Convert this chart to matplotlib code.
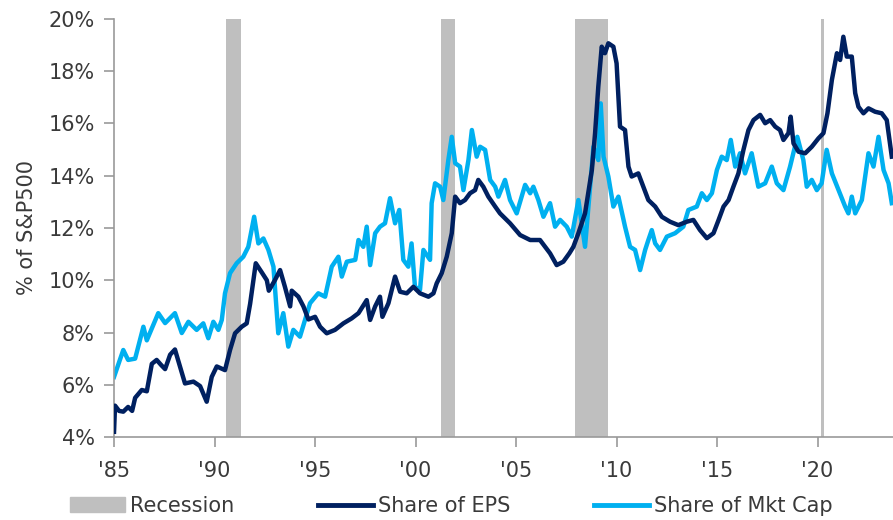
import matplotlib
matplotlib.use("Agg")
import matplotlib.pyplot as plt
import matplotlib.patches as mpatches
from matplotlib.lines import Line2D
from matplotlib.ticker import FuncFormatter

plt.rcParams["font.family"] = ["DejaVu Sans"]

# share of S&P 500 EPS (%)
eps_years = [1985.0, 1985.05, 1985.25, 1985.46, 1985.7, 1985.9, 1986.05, 1986.38, 1986.63, 1986.88,
             1987.12, 1987.35, 1987.54, 1987.79, 1988.03, 1988.28, 1988.53, 1988.95, 1989.28, 1989.61,
             1989.86, 1990.11, 1990.52, 1990.77, 1991.02, 1991.35, 1991.6, 1991.77, 1992.05, 1992.35,
             1992.6, 1992.7, 1993.0, 1993.26, 1993.5, 1993.76, 1993.84, 1994.17, 1994.42, 1994.67,
             1995.0, 1995.25, 1995.58, 1995.99, 1996.41, 1996.82, 1997.16, 1997.57, 1997.74, 1997.99,
             1998.23, 1998.35, 1998.65, 1998.98, 1999.23, 1999.56, 1999.89, 2000.22, 2000.64, 2000.89,
             2001.05, 2001.3, 2001.55, 2001.8, 2001.97, 2002.21, 2002.46, 2002.71, 2002.96, 2003.12,
             2003.37, 2003.62, 2003.96, 2004.2, 2004.7, 2005.2, 2005.7, 2006.19, 2006.69, 2007.02,
             2007.35, 2007.65, 2007.85, 2008.1, 2008.43, 2008.77, 2008.93, 2009.09, 2009.26, 2009.42,
             2009.59, 2009.84, 2010.0, 2010.17, 2010.42, 2010.59, 2010.75, 2011.08, 2011.33, 2011.58,
             2011.92, 2012.25, 2012.66, 2013.07, 2013.49, 2013.82, 2014.15, 2014.49, 2014.82, 2015.07,
             2015.32, 2015.57, 2015.81, 2016.06, 2016.31, 2016.56, 2016.81, 2017.14, 2017.39, 2017.64,
             2017.89, 2018.13, 2018.3, 2018.55, 2018.66, 2018.8, 2019.05, 2019.38, 2019.71, 2020.04,
             2020.29, 2020.49, 2020.71, 2020.96, 2021.12, 2021.28, 2021.45, 2021.7, 2021.87, 2022.03,
             2022.28, 2022.53, 2022.86, 2023.19, 2023.44, 2023.69]
eps_share = [4.2, 5.2, 5.0, 4.97, 5.15, 5.0, 5.5, 5.8, 5.75, 6.8,
             6.95, 6.75, 6.6, 7.15, 7.35, 6.7, 6.05, 6.12, 5.95, 5.35,
             6.3, 6.7, 6.56, 7.33, 7.97, 8.22, 8.35, 9.1, 10.65, 10.3,
             10.0, 9.6, 10.0, 10.39, 9.75, 9.0, 9.6, 9.37, 9.0, 8.5,
             8.6, 8.22, 7.97, 8.1, 8.35, 8.54, 8.74, 9.24, 8.48, 9.0,
             9.37, 8.6, 9.12, 10.14, 9.56, 9.5, 9.75, 9.5, 9.37, 9.5,
             9.88, 10.27, 10.9, 11.8, 13.2, 12.95, 13.07, 13.33, 13.45, 13.84,
             13.58, 13.2, 12.82, 12.56, 12.18, 11.73, 11.54, 11.54, 11.03, 10.58,
             10.71, 11.03, 11.28, 11.8, 12.56, 14.22, 15.63, 17.41, 18.94, 18.69,
             19.07, 18.94, 18.3, 15.88, 15.75, 14.35, 13.97, 14.09, 13.58, 13.07,
             12.82, 12.43, 12.24, 12.11, 12.24, 12.31, 11.92, 11.61, 11.8, 12.3,
             12.82, 13.07, 13.58, 14.09, 14.99, 15.75, 16.13, 16.33, 16.01, 16.13,
             15.88, 15.75, 15.37, 15.63, 16.26, 15.24, 14.92, 14.86, 15.11, 15.43,
             15.63, 16.39, 17.67, 18.69, 18.43, 19.32, 18.56, 18.56, 17.16, 16.64,
             16.39, 16.58, 16.45, 16.39, 16.13, 14.73]

# share of S&P 500 market cap (%)
cap_years = [1985.0, 1985.46, 1985.7, 1986.05, 1986.46, 1986.63, 1987.2, 1987.54, 1988.03, 1988.37,
             1988.7, 1989.11, 1989.44, 1989.69, 1989.94, 1990.19, 1990.36, 1990.52, 1990.77, 1991.1,
             1991.43, 1991.68, 1991.97, 1992.18, 1992.43, 1992.68, 1992.93, 1993.17, 1993.42, 1993.67,
             1993.92, 1994.25, 1994.5, 1994.75, 1995.16, 1995.5, 1995.83, 1996.16, 1996.33, 1996.58,
             1997.0, 1997.16, 1997.4, 1997.57, 1997.74, 1997.99, 1998.23, 1998.48, 1998.73, 1998.98,
             1999.19, 1999.39, 1999.64, 1999.8, 1999.97, 2000.22, 2000.39, 2000.72, 2000.8, 2000.97,
             2001.22, 2001.38, 2001.63, 2001.8, 2001.97, 2002.21, 2002.38, 2002.63, 2002.8, 2003.04,
             2003.21, 2003.46, 2003.71, 2003.96, 2004.12, 2004.45, 2004.7, 2005.03, 2005.45, 2005.7,
             2005.86, 2006.11, 2006.36, 2006.69, 2006.94, 2007.19, 2007.52, 2007.77, 2008.1, 2008.43,
             2008.68, 2008.85, 2009.09, 2009.21, 2009.35, 2009.59, 2009.84, 2010.09, 2010.42, 2010.67,
             2010.92, 2011.17, 2011.42, 2011.58, 2011.75, 2011.92, 2012.16, 2012.5, 2012.91, 2013.32,
             2013.57, 2013.99, 2014.24, 2014.49, 2014.74, 2014.99, 2015.23, 2015.48, 2015.68, 2015.9,
             2016.14, 2016.39, 2016.72, 2017.05, 2017.39, 2017.72, 2017.97, 2018.3, 2018.63, 2018.99,
             2019.29, 2019.46, 2019.71, 2019.96, 2020.2, 2020.45, 2020.71, 2021.04, 2021.37, 2021.53,
             2021.7, 2021.87, 2022.2, 2022.53, 2022.78, 2023.03, 2023.28, 2023.53, 2023.69]
cap_share = [6.3, 7.33, 6.95, 7.0, 8.22, 7.7, 8.74, 8.36, 8.74, 7.98,
             8.41, 8.1, 8.35, 7.78, 8.41, 8.1, 8.48, 9.5, 10.27, 10.65,
             10.9, 11.28, 12.43, 11.41, 11.6, 11.16, 10.52, 7.97, 8.74, 7.46,
             8.1, 7.84, 8.48, 9.12, 9.5, 9.37, 10.52, 10.9, 10.14, 10.71,
             10.78, 11.54, 11.28, 12.05, 10.58, 11.8, 12.05, 12.18, 13.14, 12.18,
             12.69, 10.78, 10.52, 11.41, 9.75, 9.63, 11.16, 10.78, 12.95, 13.71,
             13.58, 13.07, 14.6, 15.49, 14.48, 14.35, 13.45, 14.6, 15.75, 14.73,
             15.11, 14.99, 13.84, 13.58, 13.2, 13.84, 13.07, 12.56, 13.65, 13.33,
             13.58, 13.07, 12.43, 12.95, 12.05, 12.31, 12.05, 11.67, 13.07, 11.28,
             13.58, 15.11, 14.6, 16.77, 14.73, 13.97, 12.82, 13.2, 12.05, 11.28,
             11.16, 10.39, 11.16, 11.54, 11.92, 11.41, 11.16, 11.67, 11.8, 12.05,
             12.69, 12.82, 13.33, 13.07, 13.33, 14.22, 14.73, 14.6, 15.37, 14.35,
             14.86, 14.09, 14.86, 13.58, 13.71, 14.35, 13.71, 13.45, 14.35, 15.49,
             14.6, 13.58, 13.84, 13.45, 13.71, 14.99, 14.09, 13.45, 12.82, 12.56,
             13.2, 12.56, 13.07, 14.86, 14.35, 15.49, 14.22, 13.71, 12.95]

# NBER recessions (start, end)
recessions = [(1990.58, 1991.3), (2001.25, 2001.95), (2007.95, 2009.55), (2020.15, 2020.3)]

x_ticks = [1985, 1990, 1995, 2000, 2005, 2010, 2015, 2020]
x_labels = ["'85", "'90", "'95", "'00", "'05", "'10", "'15", "'20"]
y_ticks = [4, 6, 8, 10, 12, 14, 16, 18, 20]

DARK = "#002060"
LIGHT = "#00B0F0"
GREY = "#BFBFBF"
TXT = "#3a3a3a"

fig = plt.figure(figsize=(8.93, 5.20), dpi=100)
ax = fig.add_axes([0.1277, 0.1596, 0.8723, 0.8039])

for start, end in recessions:
    ax.axvspan(start, end, color=GREY, lw=0, zorder=1)

ax.plot(eps_years, eps_share, color=DARK, lw=3.2, zorder=3, solid_joinstyle="round")
ax.plot(cap_years, cap_share, color=LIGHT, lw=3.2, zorder=2, solid_joinstyle="round")

ax.set_xlim(1985, 2023.75)
ax.set_ylim(4, 20)
ax.set_xticks(x_ticks)
ax.set_xticklabels(x_labels)
ax.set_yticks(y_ticks)
ax.yaxis.set_major_formatter(FuncFormatter(lambda v, _: f"{v:.0f}%"))

for s in ["top", "right"]:
    ax.spines[s].set_visible(False)
for s in ["left", "bottom"]:
    ax.spines[s].set_color("#999999")
    ax.spines[s].set_linewidth(1.2)
ax.tick_params(axis="both", colors="#999999", labelcolor=TXT, labelsize=15,
               length=7, width=1.2, direction="out")
ax.tick_params(axis="x", pad=10)
ax.tick_params(axis="y", pad=7)
ax.set_ylabel("% of S&P500", fontsize=15, color=TXT, labelpad=8)

handles = [
    mpatches.Patch(color=GREY, label="Recession"),
    Line2D([], [], color=DARK, lw=3.5, label="Share of EPS"),
    Line2D([], [], color=LIGHT, lw=3.5, label="Share of Mkt Cap"),
]
fig.legend(handles=handles, loc="center", bbox_to_anchor=(0.5056, 0.027), ncol=3,
           frameon=False, fontsize=15, handlelength=2.65, handletextpad=0.25,
           columnspacing=4.0, labelcolor=TXT)

fig.savefig("out.png", dpi=100)
